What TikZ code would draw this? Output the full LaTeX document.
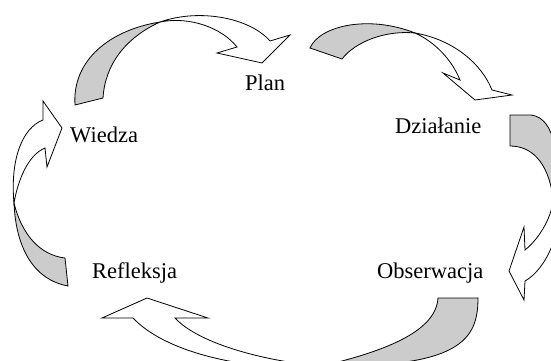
\documentclass[tikz,border=0pt]{standalone}
\usepackage{fontspec}
\setmainfont{Liberation Serif}
\begin{document}
\begin{tikzpicture}[x=1pt,y=-1pt,
  backside/.style={draw=black, fill=black!20, line width=0.8pt, line join=miter},
  frontside/.style={draw=black, fill=white, line width=0.8pt, line join=miter},
  label/.style={inner sep=0pt, anchor=base west, font=\fontsize{22.5}{27}\selectfont}]
\useasboundingbox (0,0) rectangle (551,360);
\clip (0,0) rectangle (551,360);

% stage labels
\node[label] (plan) at (245,90) {Plan};
\node[label] (wiedza) at (70,142) {Wiedza};
\node[label] (dzialanie) at (395,133) {Działanie};
\node[label] (refleksja) at (92,278) {Refleksja};
\node[label] (obserwacja) at (377,278) {Obserwacja};

% twist points of the curved block arrows
\coordinate (c1) at (160,22);
\coordinate (c2) at (415,33);
\coordinate (c3) at (553,198);
\coordinate (c4) at (322,366);
\coordinate (c5) at (14,203);

% Wiedza -> Plan
\draw[backside] (75,105) .. controls (72,60) and (110,30) .. (c1)
  .. controls (125,38) and (105,65) .. (103,98) -- cycle;
\draw[frontside] (c1) .. controls (200,8) and (250,18) .. (270,41)
  -- (290,35) -- (262,63) -- (217,53) -- (237,47)
  .. controls (222,28) and (190,16) .. (c1) -- cycle;

% Plan -> Dzialanie
\draw[backside] (310,48) .. controls (320,25) and (370,15) .. (c2)
  .. controls (385,30) and (355,42) .. (342,59) -- cycle;
\draw[frontside] (c2) .. controls (455,40) and (482,65) .. (492,90)
  -- (512,95) -- (475,100) -- (443,73) -- (460,80)
  .. controls (452,60) and (435,42) .. (c2) -- cycle;

% Dzialanie -> Obserwacja
\draw[backside] (510,115) -- (531,115) .. controls (556,118) and (560,160) .. (c3)
  .. controls (548,160) and (530,146) .. (510,146) -- cycle;
\draw[frontside] (c3) .. controls (553,215) and (540,238) .. (525,250)
  -- (524,227) -- (509,271) -- (524,300) -- (525,281)
  .. controls (545,270) and (566,230) .. (c3) -- cycle;

% Obserwacja -> Refleksja
\draw[backside] (438,298) -- (478,298) .. controls (478,340) and (460,368) .. (c4)
  .. controls (390,350) and (436,330) .. (438,298) -- cycle;
\draw[frontside] (c4) .. controls (270,362) and (200,345) .. (175,318)
  -- (208,318) -- (147,298) -- (102,318) -- (133,318)
  .. controls (175,362) and (280,372) .. (c4) -- cycle;

% Refleksja -> Wiedza
\draw[backside] (65,258) -- (68,286) .. controls (35,280) and (16,250) .. (c5)
  .. controls (22,235) and (40,255) .. (65,258) -- cycle;
\draw[frontside] (c5) .. controls (10,160) and (22,128) .. (43,120)
  -- (43,101) -- (62,128) -- (47,167) -- (45,148)
  .. controls (28,155) and (18,180) .. (c5) -- cycle;
\end{tikzpicture}
\end{document}
